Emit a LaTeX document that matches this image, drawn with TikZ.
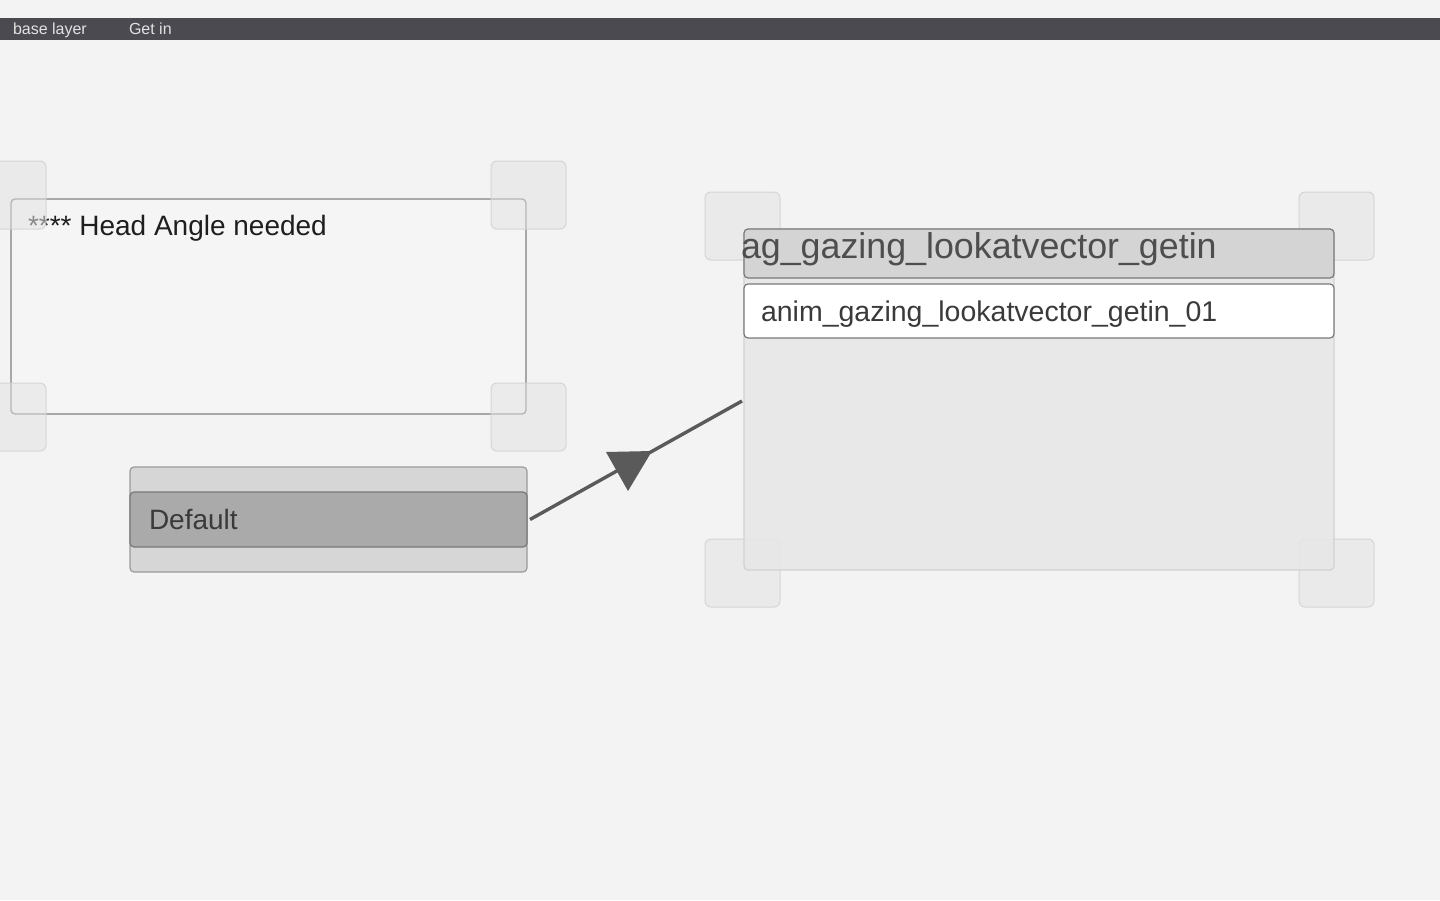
\documentclass[tikz,border=0pt]{standalone}
\usepackage{fontspec}
\setmainfont{Liberation Sans}
\definecolor{bg}{HTML}{F3F3F3}
\definecolor{barc}{HTML}{4B4A50}
\definecolor{bartxt}{HTML}{E2E2E2}
\definecolor{sqfill}{HTML}{E3E3E3}
\definecolor{sqline}{HTML}{CFCFCF}
\definecolor{cmtfill}{HTML}{F5F5F5}
\definecolor{cmtline}{HTML}{808080}
\definecolor{stfill}{HTML}{D6D6D6}
\definecolor{stline}{HTML}{9A9A9A}
\definecolor{rowsel}{HTML}{AAAAAA}
\definecolor{rowline}{HTML}{787878}
\definecolor{bodyfill}{HTML}{E7E7E7}
\definecolor{bodyline}{HTML}{D2D2D2}
\definecolor{hdrfill}{HTML}{D4D4D4}
\definecolor{linkc}{HTML}{5A5A5A}
\definecolor{txtdark}{HTML}{1E1E1E}
\definecolor{txtmid}{HTML}{3A3A3A}
\tikzset{
  panel/.style={anchor=north west, inner sep=0pt, outer sep=0pt, rounded corners=4pt},
  handle/.style={panel, fill=sqfill, fill opacity=0.55, draw=sqline, draw opacity=0.8, line width=1pt, rounded corners=6pt, minimum width=75pt, minimum height=68pt},
  lbl/.style={anchor=base west, inner sep=0pt, outer sep=0pt},
}
\begin{document}
\begin{tikzpicture}[x=1pt,y=-1pt]
\useasboundingbox (0,0) rectangle (1440,900);
\fill[bg] (0,0) rectangle (1440,900);
% top bar
\node[panel, rounded corners=0pt, fill=barc, minimum width=1440pt, minimum height=22pt] (bar) at (0,18) {};
\node[lbl, text=bartxt, font=\fontsize{16}{18}\selectfont] (lay) at (13,34.5) {base layer};
\node[lbl, text=bartxt, font=\fontsize{16}{18}\selectfont] (sub) at (129,34.5) {Get in};
% comment box
\node[panel, fill=cmtfill, draw=cmtline, line width=1.4pt, minimum width=515pt, minimum height=215pt] (cmt) at (11,199) {};
\node[lbl, text=txtdark, font=\fontsize{28}{32}\selectfont] (cmttxt) at (28,235) {**** Head Angle needed};
% default state
\node[panel, fill=stfill, draw=stline, line width=1.2pt, minimum width=397pt, minimum height=105pt] (def) at (130,467) {};
\node[panel, fill=rowsel, draw=rowline, line width=1.2pt, minimum width=397pt, minimum height=55pt] (defrow) at (130,492) {};
\node[lbl, text=txtmid, font=\fontsize{28}{32}\selectfont] (deftxt) at (149,529) {Default};
% handles of the target state (behind it)
\node[handle] (h5) at (705,192) {};
\node[handle] (h6) at (1299,192) {};
\node[handle] (h7) at (705,539) {};
\node[handle] (h8) at (1299,539) {};
% target state
\node[panel, fill=bodyfill, fill opacity=0.85, draw=bodyline, line width=1.2pt, minimum width=590pt, minimum height=341pt] (tgt) at (744,229) {};
\node[panel, fill=hdrfill, draw=rowline, line width=1.2pt, minimum width=590pt, minimum height=49pt] (hdr) at (744,229) {};
\node[lbl, text=txtmid!90, font=\fontsize{35.8}{40}\selectfont] (hdrtxt) at (741,258) {ag\_gazing\_lookatvector\_getin};
\node[panel, fill=white, draw=rowline, line width=1.2pt, minimum width=590pt, minimum height=54pt] (clip) at (744,284) {};
\node[lbl, text=txtmid, font=\fontsize{28.5}{32}\selectfont] (cliptxt) at (761,321) {anim\_gazing\_lookatvector\_getin\_01};
% handles of the comment
\node[handle] (h1) at (-29,161) {};
\node[handle] (h2) at (491,161) {};
\node[handle] (h3) at (-29,383) {};
\node[handle] (h4) at (491,383) {};
% transition
\coordinate (tin) at (742,401);
\draw[linkc, line width=3.4pt] ([xshift=3pt]defrow.east) -- (tin);
\fill[linkc] (606,452) -- (652,451) -- (628,491) -- cycle;
\end{tikzpicture}
\end{document}
